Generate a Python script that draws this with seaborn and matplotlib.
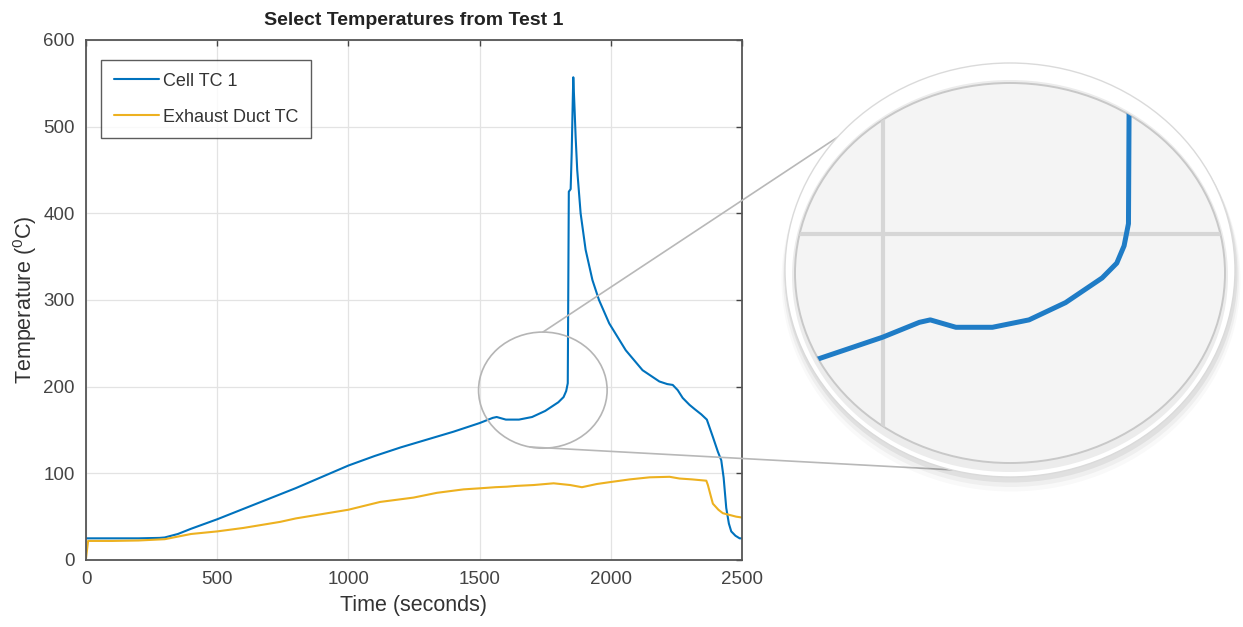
import numpy as np
import pandas as pd
import matplotlib
matplotlib.use("Agg")
import matplotlib.pyplot as plt
from matplotlib.patches import Ellipse
from matplotlib.lines import Line2D
import seaborn as sns

# ---- data ----
cell_time = [0, 100, 200, 280, 300, 350, 400, 500, 600, 700, 800, 900, 1000,
             1100, 1200, 1300, 1400, 1500, 1550, 1565, 1600, 1650, 1700, 1750,
             1800, 1820, 1830, 1836, 1840, 1847, 1851, 1855, 1857, 1862, 1866,
             1872, 1885, 1904, 1930, 1955, 1994, 2057, 2121, 2185, 2215, 2236,
             2255, 2274, 2300, 2320, 2345, 2366, 2389, 2408, 2421, 2430, 2440,
             2450, 2459, 2475, 2491, 2500]
cell_temp = [25, 25, 25, 25.5, 26, 30, 36, 47, 59, 71, 83, 96, 109,
             120, 130, 139, 148, 158, 164, 165, 162, 162, 165, 172,
             182, 188, 195, 204, 425, 428, 470, 530, 557, 520, 488,
             450, 400, 358, 323, 300, 273, 242, 219, 206, 203, 202,
             196, 187, 179, 174, 168, 162, 142, 125, 115, 95, 60,
             42, 33, 28, 25, 25]

duct_time = [0, 8, 100, 200, 300, 350, 400, 500, 600, 740, 800, 900, 1000,
             1121, 1248, 1337, 1439, 1500, 1560, 1604, 1640, 1706, 1782, 1845,
             1890, 1947, 2000, 2072, 2148, 2224, 2262, 2310, 2364, 2370, 2380,
             2389, 2410, 2427, 2478, 2500]
duct_temp = [2, 22, 22, 22.5, 24, 27, 30, 33, 37, 44, 48, 53, 58,
             67, 72, 77.5, 81.5, 82.7, 84, 84.6, 85.5, 86.5, 88.5, 86.5,
             84, 87.7, 90, 93, 95.4, 96, 94, 93, 91.5, 86.5, 75,
             65, 58, 54, 50, 49]

series_names = ["Cell TC 1", "Exhaust Duct TC"]
x_ticks = [0, 500, 1000, 1500, 2000, 2500]
y_ticks = [0, 100, 200, 300, 400, 500, 600]

df_cell = pd.DataFrame({"t": cell_time, "T": cell_temp})
df_duct = pd.DataFrame({"t": duct_time, "T": duct_temp})

W, H = 1243, 627
def fx(px):
    return px / W
def fy(py):
    return 1 - py / H

blue = "#0072BD"
yellow = "#EDB120"

sns.set_theme(style="white")
plt.rcParams["font.family"] = ["Liberation Sans", "DejaVu Sans"]
plt.rcParams["mathtext.default"] = "regular"

fig = plt.figure(figsize=(W / 100, H / 100), dpi=100)
ax = fig.add_axes([fx(86), fy(560), fx(742) - fx(86), fy(40) - fy(560)])

sns.lineplot(data=df_cell, x="t", y="T", ax=ax, color=blue, lw=1.5,
             label=series_names[0], sort=False, estimator=None)
sns.lineplot(data=df_duct, x="t", y="T", ax=ax, color=yellow, lw=1.5,
             label=series_names[1], sort=False, estimator=None)

ax.set_xlim(0, 2500)
ax.set_ylim(0, 600)
ax.set_xticks(x_ticks)
ax.set_yticks(y_ticks)
ax.grid(True, color="#e3e3e3", lw=0.9)
ax.tick_params(direction="in", length=4, width=1, top=True, right=True,
               labelsize=13.5, colors="#444444", pad=8)
for s in ax.spines.values():
    s.set_color("#555555")
    s.set_linewidth(1.3)
ax.set_xlabel("Time (seconds)", fontsize=15.5, color="#333333", labelpad=5)
ax.set_ylabel("Temperature ($^{0}$C)", fontsize=15.5, color="#333333", labelpad=3)
ax.set_title("Select Temperatures from Test 1", fontsize=14, fontweight="bold",
             color="#222222", pad=11)

leg = ax.legend(loc="upper left", bbox_to_anchor=(0.023, 0.9615), borderaxespad=0,
                fontsize=13, frameon=True, fancybox=False, handlelength=2.5,
                handletextpad=0.25, labelspacing=1.05, borderpad=0.7)
leg.get_frame().set_edgecolor("#333333")
leg.get_frame().set_linewidth(1.0)
for t in leg.get_texts():
    t.set_color("#333333")

# small circle around the onset region
ax.add_patch(Ellipse((1741, 196), 490, 134, fc="none", ec="#b5b5b5", lw=1.2, zorder=5))

# connector lines to the magnifier
fig.add_artist(Line2D([fx(543), fx(853)], [fy(332), fy(127)], color="#b8b8b8",
                      lw=1.2, zorder=1))
fig.add_artist(Line2D([fx(530), fx(1010)], [fy(447), fy(473)], color="#b8b8b8",
                      lw=1.2, zorder=1))

# magnifier bezel with soft shadow
for k, a in [(9, 0.025), (6, 0.04), (3, 0.06)]:
    fig.add_artist(Ellipse((fx(1011), fy(271 + k)), 2 * (225 + k / 2) / W,
                           2 * (207 + k / 2) / H, transform=fig.transFigure,
                           fc="#000000", ec="none", alpha=a, zorder=1.5))
fig.add_artist(Ellipse((fx(1010), fy(270)), 450 / W, 414 / H,
                       transform=fig.transFigure, fc="white", ec="#dadada",
                       lw=1.0, zorder=1.6))
fig.add_artist(Ellipse((fx(1010), fy(276)), 436 / W, 392 / H,
                       transform=fig.transFigure, fc="#d0d0d0", ec="none",
                       alpha=0.4, zorder=1.7))

# magnified view
ax2 = fig.add_axes([fx(795), fy(463), fx(1225) - fx(795), fy(83) - fy(463)], zorder=2)
ax2.patch.set_visible(False)
ax2.axis("off")
lens = Ellipse((0.5, 0.5), 1, 1, transform=ax2.transAxes, fc="#f4f4f4",
               ec="#c8c8c8", lw=1.4, zorder=0, clip_on=False)
ax2.add_patch(lens)
ax2.axvline(1500, color="#d6d6d6", lw=3, zorder=1)
ax2.axhline(200, color="#d6d6d6", lw=3, zorder=1)
sns.lineplot(data=df_cell, x="t", y="T", ax=ax2, color="#1f7cc6", lw=3.6,
             sort=False, estimator=None, legend=False, zorder=2)
ax2.set_xlim(1380, 1968)
ax2.set_ylim(107, 261)
for ln in ax2.lines:
    ln.set_clip_path(lens)

fig.savefig("out.png", dpi=100)
